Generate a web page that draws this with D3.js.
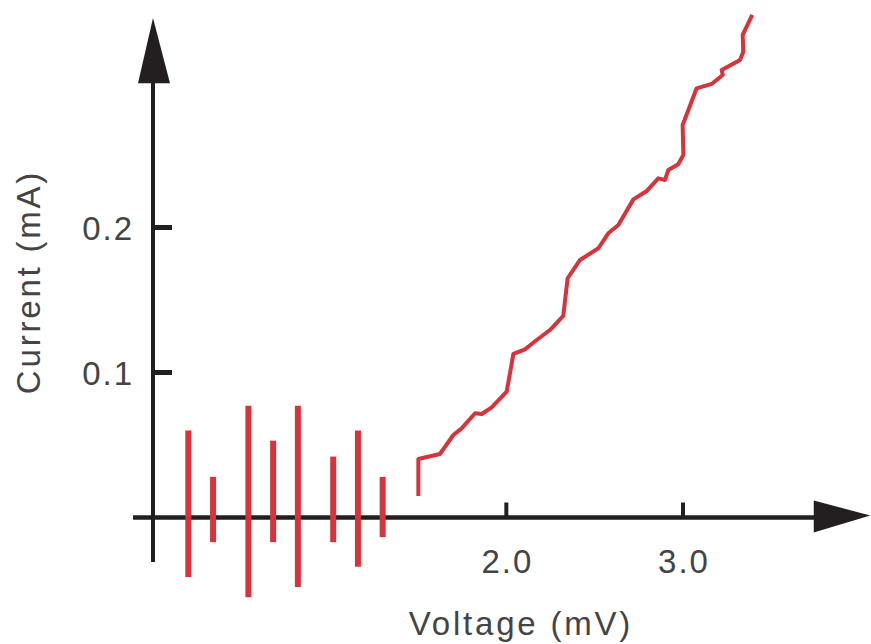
<body style="margin:0;background:#fff"></body>

<script type='text/javascript' src='https://d3js.org/d3.v7.min.js'></script>
<script>
    var width = 871, height = 644;

    // noise pulses below threshold: voltage, top and bottom current
    var pulseV = [0.20, 0.34, 0.54, 0.68, 0.82, 1.02, 1.16, 1.30];
    var pulseTop = [0.060, 0.028, 0.077, 0.053, 0.077, 0.042, 0.060, 0.028];
    var pulseBottom = [-0.041, -0.017, -0.055, -0.017, -0.048, -0.017, -0.034, -0.0135];

    // I-V trace above threshold
    var traceV = [1.502, 1.502, 1.624, 1.700, 1.747, 1.823, 1.861, 1.917, 2.002, 2.040, 2.106, 2.172,
        2.247, 2.322, 2.347, 2.417, 2.521, 2.577, 2.634, 2.719, 2.795, 2.860, 2.898, 2.917,
        2.973, 3.002, 2.998, 3.077, 3.162, 3.225, 3.219, 3.323, 3.341, 3.338, 3.392];
    var traceI = [0.0148, 0.0403, 0.0438, 0.0569, 0.0615, 0.0719, 0.0714, 0.0760, 0.0868, 0.1128, 0.1160, 0.1224,
        0.1293, 0.1390, 0.1650, 0.1776, 0.1857, 0.1960, 0.2017, 0.2194, 0.2252, 0.2339, 0.2328, 0.2397,
        0.2436, 0.2500, 0.2707, 0.2960, 0.2990, 0.3052, 0.3086, 0.3155, 0.3212, 0.3328, 0.3466];

    var xTicks = [2.0, 3.0];
    var xTickLabels = ["2.0", "3.0"];
    var yTicks = [0.1, 0.2];
    var yTickLabels = ["0.1", "0.2"];

    var axisColor = "#231f20", red = "#d8323a", textColor = "#444";

    var svg = d3.select('body').append('svg').attr('width', width).attr('height', height);

    var x = d3.scaleLinear().domain([0, 3]).range([153, 683]);
    var y = d3.scaleLinear().domain([0, 0.2]).range([517.5, 227.5]);

    // x axis with arrow
    svg.append("line")
        .attr("x1", x(-0.113)).attr("x2", x(3.75))
        .attr("y1", y(0)).attr("y2", y(0))
        .attr("stroke", axisColor).attr("stroke-width", 4.5);
    svg.append("path")
        .attr("d", d3.line()([[x(3.74), y(0) - 17], [x(4.06), y(0) - 2], [x(3.74), y(0) + 15]]))
        .attr("fill", axisColor);

    // y axis with arrow
    svg.append("line")
        .attr("x1", x(0)).attr("x2", x(0))
        .attr("y1", y(-0.0307)).attr("y2", y(0.30))
        .attr("stroke", axisColor).attr("stroke-width", 4);
    svg.append("path")
        .attr("d", d3.line()([[x(0) - 15, y(0.2995)], [x(0), y(0.3445)], [x(0) + 17, y(0.2995)]]))
        .attr("fill", axisColor);

    // ticks
    svg.selectAll(".xt").data(xTicks).join("line")
        .attr("x1", d => x(d)).attr("x2", d => x(d))
        .attr("y1", y(0)).attr("y2", y(0) - 15)
        .attr("stroke", axisColor).attr("stroke-width", 4);
    svg.selectAll(".yt").data(yTicks).join("line")
        .attr("x1", x(0)).attr("x2", x(0) + 19)
        .attr("y1", d => y(d)).attr("y2", d => y(d))
        .attr("stroke", axisColor).attr("stroke-width", 5);

    var font = "'Liberation Sans', Arial, sans-serif";

    svg.selectAll(".xl").data(xTicks).join("text")
        .attr("x", d => x(d) + 1).attr("y", 573)
        .attr("text-anchor", "middle")
        .style("font-family", font).style("font-size", "33px").style("letter-spacing", "2px")
        .attr("fill", textColor)
        .text((d, i) => xTickLabels[i]);
    svg.selectAll(".yl").data(yTicks).join("text")
        .attr("x", 134).attr("y", d => y(d) + 12)
        .attr("text-anchor", "end")
        .style("font-family", font).style("font-size", "33px").style("letter-spacing", "2px")
        .attr("fill", textColor)
        .text((d, i) => yTickLabels[i]);

    // axis titles
    svg.append("text")
        .attr("x", 521).attr("y", 635)
        .attr("text-anchor", "middle")
        .style("font-family", font).style("font-size", "33px").style("letter-spacing", "2.8px")
        .attr("fill", textColor)
        .text("Voltage (mV)");
    svg.append("text")
        .attr("transform", "translate(40,282) rotate(-90)")
        .attr("text-anchor", "middle")
        .style("font-family", font).style("font-size", "33px").style("letter-spacing", "2.8px")
        .attr("fill", textColor)
        .text("Current (mA)");

    // pulses
    svg.selectAll(".pulse").data(pulseV).join("line")
        .attr("x1", d => x(d)).attr("x2", d => x(d))
        .attr("y1", (d, i) => y(pulseTop[i])).attr("y2", (d, i) => y(pulseBottom[i]))
        .attr("stroke", red).attr("stroke-width", 6);

    // trace
    var pts = traceV.map((v, i) => [x(v), y(traceI[i])]);
    svg.append("path")
        .attr("d", d3.line()(pts))
        .attr("fill", "none")
        .attr("stroke", red).attr("stroke-width", 4)
        .attr("stroke-linejoin", "round");
</script>
